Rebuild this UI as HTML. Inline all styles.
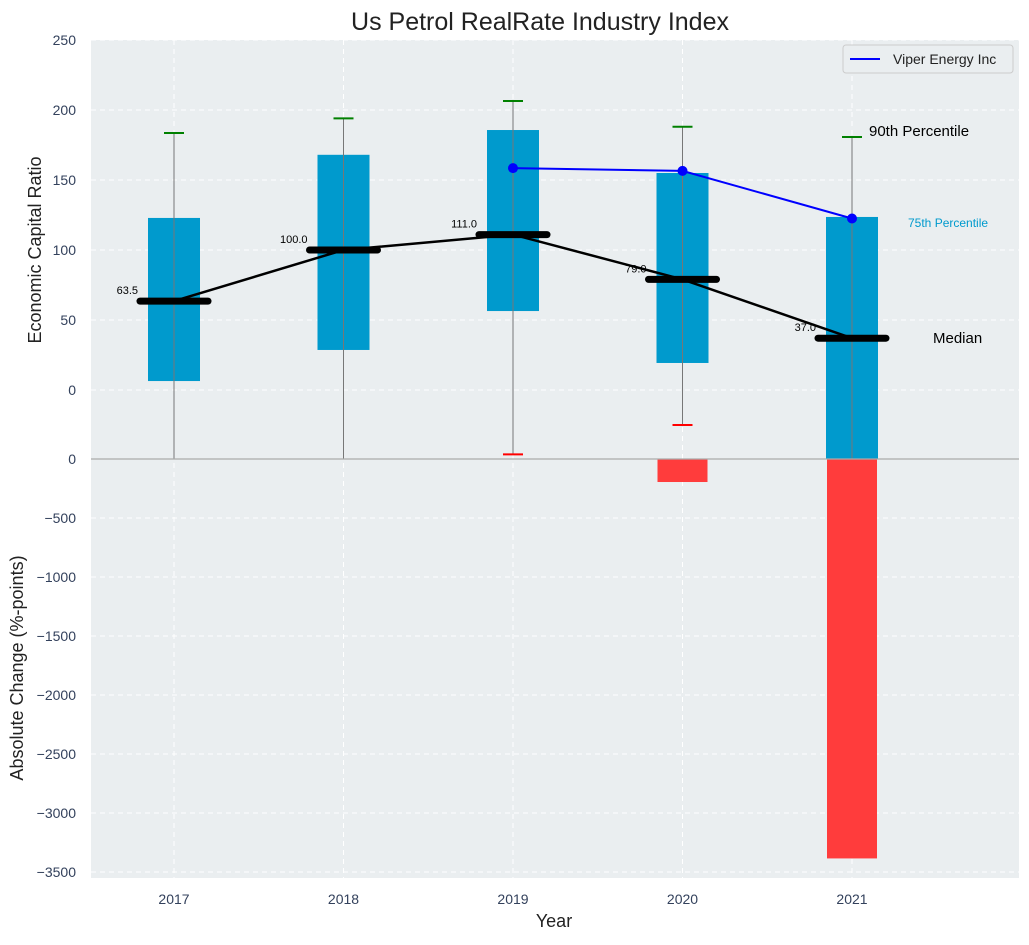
<!DOCTYPE html>
<html><head><meta charset="utf-8"><style>
body{margin:0;background:#fff;font-family:"Liberation Sans",sans-serif}
svg text{font-family:"Liberation Sans",sans-serif}
</style></head><body>
<svg id="c" width="1029" height="940" xmlns="http://www.w3.org/2000/svg"></svg>
<script>
const years=[2017,2018,2019,2020,2021];
const q1=[6.4,28.6,56.4,19.3,-60];
const q3=[122.9,168,185.7,155,123.6];
const whiskLo=[-60,-60,-46,-25,-60];
const whiskHi=[183.6,194,206.4,188,180.7];
const medians=[63.5,100,111,79,37];
const medianLabels=["63.5","100.0","111.0","79.0","37.0"];
const viperYears=[2019,2020,2021];
const viperVals=[158.5,156.5,122.5];
const changeYears=[2020,2021];
const changeVals=[-195,-3385];
const topTicks=[0,50,100,150,200,250];
const botTicks=[0,-500,-1000,-1500,-2000,-2500,-3000,-3500];

const L=91,R=1019,T1=40,B1=459,T2=459,B2=878;
const X=v=>174+(v-2017)*169.5;
const Y1=v=>390-v*1.4;
const Y2=v=>459-v*(-0.118)*-1;
const svg=document.getElementById('c');
const NS='http://www.w3.org/2000/svg';
function el(t,a,p){const e=document.createElementNS(NS,t);for(const k in a)e.setAttribute(k,a[k]);(p||svg).appendChild(e);return e;}
function clipY1(v){return Math.min(B1,Math.max(T1,Y1(v)));}

let bg=el('rect',{x:L,y:T1,width:R-L,height:B2-T1,fill:'#eaeef0'});


years.forEach(y=>{const g=el('line',{x1:X(y),x2:X(y),y1:T1,y2:B2,stroke:'#fff','stroke-dasharray':'5,4','stroke-width':1});
});
topTicks.forEach(t=>{const yy=Y1(t);
const g=el('line',{x1:L,x2:R,y1:yy,y2:yy,stroke:'#fff','stroke-dasharray':'5,4'});
const tx=el('text',{x:76,y:yy+5,'text-anchor':'end','font-size':14,fill:'#33415c'});tx.textContent=t;
});
botTicks.forEach(t=>{const yy=Y2(t);
const g=el('line',{x1:L,x2:R,y1:yy,y2:yy,stroke:'#fff','stroke-dasharray':'5,4'});
if(t===0)return;
const tx=el('text',{x:76,y:yy+5,'text-anchor':'end','font-size':14,fill:'#33415c'});tx.textContent=t.toString().replace('-','−');
});
const z=el('text',{x:76,y:464,'text-anchor':'end','font-size':14,fill:'#33415c'});z.textContent='0';


years.forEach((y,i)=>{
 const x=X(y),top=clipY1(q3[i]),bot=clipY1(q1[i]);
 const r=el('rect',{x:x-26,y:top,width:52,height:bot-top,fill:'#009ACD'});
 
 const w=el('line',{x1:x,x2:x,y1:clipY1(whiskHi[i]),y2:clipY1(whiskLo[i]),stroke:'#777','stroke-width':1});
 
 const c=el('line',{x1:x-10,x2:x+10,y1:Y1(whiskHi[i]),y2:Y1(whiskHi[i]),stroke:'green','stroke-width':2});
 
 if(Y1(whiskLo[i])<B1){const c2=el('line',{x1:x-10,x2:x+10,y1:Y1(whiskLo[i]),y2:Y1(whiskLo[i]),stroke:'red','stroke-width':2});
 }
});
changeYears.forEach((y,i)=>{const x=X(y);
 const r=el('rect',{x:x-25,y:Y2(0),width:50,height:Y2(changeVals[i])-Y2(0),fill:'#ff3c3c'});
 });
const dv=el('line',{x1:L,x2:R,y1:459,y2:459,stroke:'#aaa','stroke-width':1.2});

const ml=el('polyline',{points:years.map((y,i)=>X(y)+','+Y1(medians[i])).join(' '),fill:'none',stroke:'#000','stroke-width':2.5});

years.forEach((y,i)=>{const x=X(y),yy=Y1(medians[i]);
 const m=el('line',{x1:x-34,x2:x+34,y1:yy,y2:yy,stroke:'#000','stroke-width':7,'stroke-linecap':'round'});
 
 const t=el('text',{x:x-36,y:yy-7,'text-anchor':'end','font-size':11,fill:'#000'});t.textContent=medianLabels[i];
 });
const vl=el('polyline',{points:viperYears.map((y,i)=>X(y)+','+Y1(viperVals[i])).join(' '),fill:'none',stroke:'#0000ff','stroke-width':2});

viperYears.forEach((y,i)=>{const p=el('circle',{cx:X(y),cy:Y1(viperVals[i]),r:5,fill:'#0000ff'});
 });
[['90th Percentile',869,136,15,'#000','annotation-90th'],['75th Percentile',908,227,12,'#009ACD','annotation-75th'],['Median',933,343,15,'#000','annotation-median']].forEach(a=>{
 const t=el('text',{x:a[1],y:a[2],'font-size':a[3],fill:a[4]});t.textContent=a[0];
 });
years.forEach(y=>{const t=el('text',{x:X(y),y:904,'text-anchor':'middle','font-size':14,fill:'#33415c'});t.textContent=y;
 });
let t=el('text',{x:540,y:30,'text-anchor':'middle','font-size':25,fill:'#222'});t.textContent='Us Petrol RealRate Industry Index';

t=el('text',{x:554,y:927,'text-anchor':'middle','font-size':18,fill:'#222'});t.textContent='Year';

t=el('text',{x:0,y:0,'text-anchor':'middle','font-size':18,fill:'#222',transform:'translate(41,250) rotate(-90)'});t.textContent='Economic Capital Ratio';

t=el('text',{x:0,y:0,'text-anchor':'middle','font-size':18,fill:'#222',transform:'translate(23,668) rotate(-90)'});t.textContent='Absolute Change (%-points)';

const lg=el('g',{});
el('rect',{x:843,y:45,width:170,height:28,rx:3,fill:'#eaeef0',stroke:'#ccc'},lg);
el('line',{x1:850,x2:880,y1:59,y2:59,stroke:'#0000ff','stroke-width':2},lg);
const lt=el('text',{x:893,y:64,'font-size':14,fill:'#222'},lg);lt.textContent='Viper Energy Inc';

</script>
</body></html>
